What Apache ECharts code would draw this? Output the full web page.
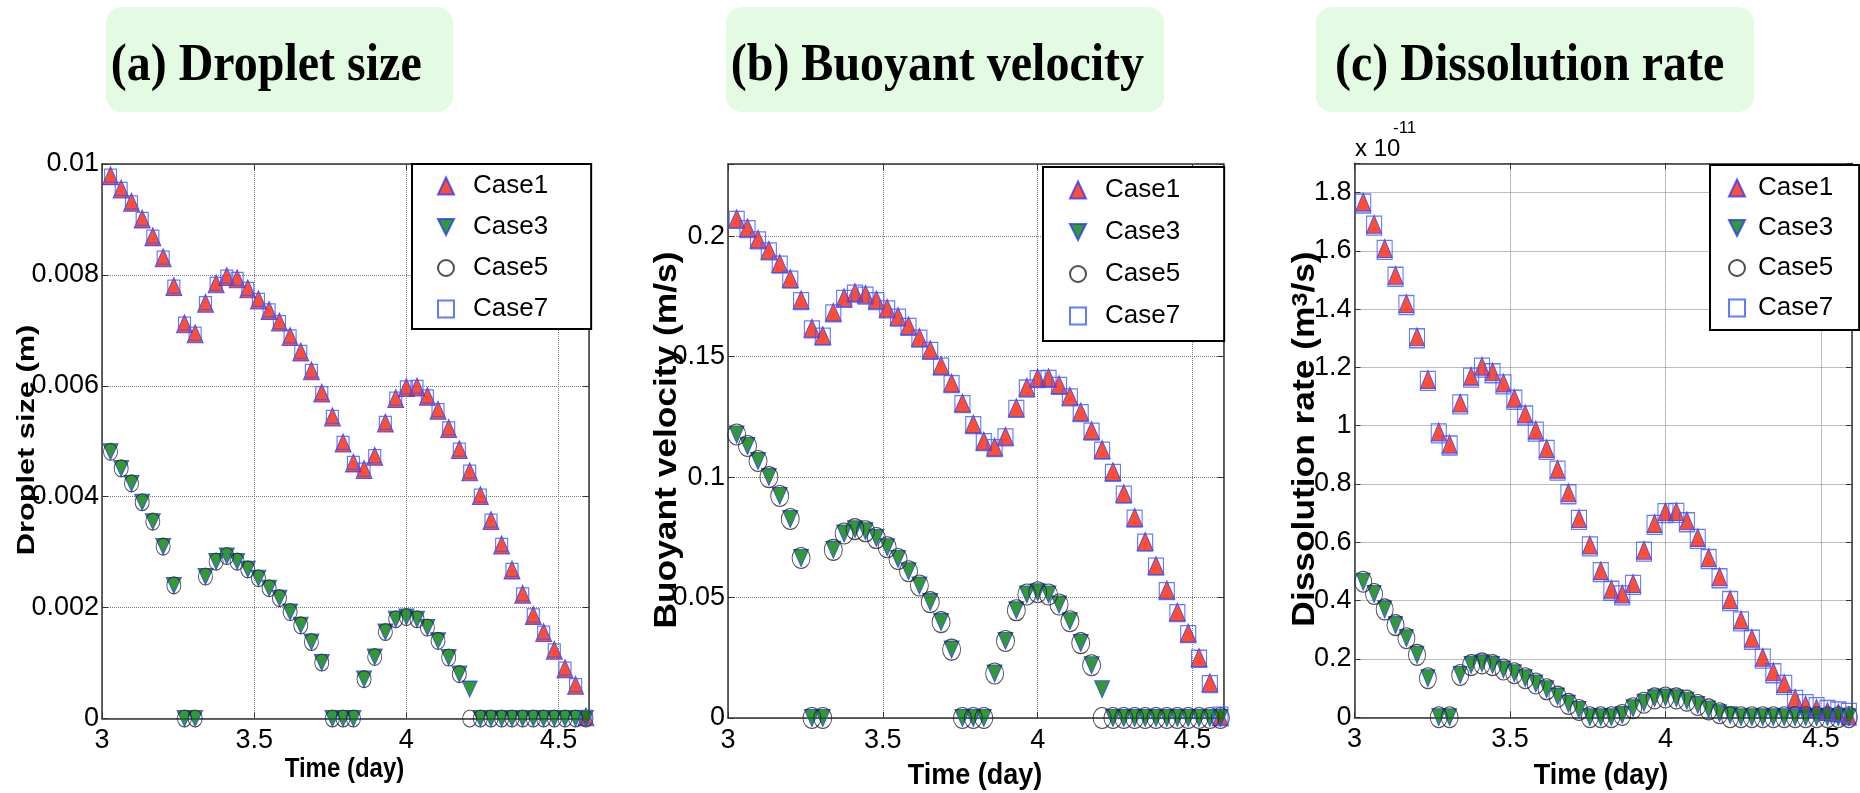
<!DOCTYPE html>
<html>
<head>
<meta charset="utf-8">
<title>Droplet size, buoyant velocity, dissolution rate</title>
<script src="https://cdn.jsdelivr.net/npm/echarts@6/dist/echarts.min.js"></script>
<style>
  html, body { margin: 0; padding: 0; background: #fff; }
  #chart { width: 1860px; height: 793px; }
</style>
</head>
<body>
<div id="chart"></div>
<script>
// time (day)
var times = [
  3.028, 3.063, 3.097, 3.132, 3.167, 3.201, 3.236, 3.271, 3.306, 3.340,
  3.375, 3.410, 3.444, 3.479, 3.514, 3.549, 3.583, 3.618, 3.653, 3.688,
  3.722, 3.757, 3.792, 3.826, 3.861, 3.896, 3.931, 3.965, 4.000, 4.035,
  4.069, 4.104, 4.139, 4.174, 4.208, 4.243, 4.278, 4.313, 4.347, 4.382,
  4.417, 4.451, 4.486, 4.521, 4.556, 4.590
];

// (a) droplet size (m)
var sizeCase1 = [
  0.00979, 0.00955, 0.00931, 0.00901, 0.00869, 0.00831, 0.00779, 0.00712, 0.00694, 0.00749,
  0.00784, 0.00797, 0.00793, 0.00775, 0.00755, 0.00736, 0.00715, 0.00689, 0.00661, 0.00627,
  0.00587, 0.00544, 0.00497, 0.00461, 0.00449, 0.00473, 0.00533, 0.00577, 0.00597, 0.00598,
  0.00581, 0.00556, 0.00523, 0.00485, 0.00445, 0.00402, 0.00357, 0.00313, 0.00268, 0.00224,
  0.00186, 0.00155, 0.00123, 0.00090, 0.00060, 0.00003
];
var sizeCase3 = [
  0.00481, 0.00451, 0.00424, 0.00390, 0.00355, 0.00310, 0.00240, 0, 0, 0.00256,
  0.00283, 0.00293, 0.00283, 0.00269, 0.00253, 0.00235, 0.00217, 0.00192, 0.00168, 0.00138,
  0.00101, 0, 0, 0, 0.00071, 0.00111, 0.00156, 0.00179, 0.00183, 0.00179,
  0.00164, 0.00140, 0.00110, 0.00080, 0.00053, 0, 0, 0, 0, 0,
  0, 0, 0, 0, 0, 0
];
var sizeCase5 = [
  0.00481, 0.00451, 0.00424, 0.00390, 0.00355, 0.00310, 0.00240, 0, 0, 0.00256,
  0.00283, 0.00293, 0.00283, 0.00269, 0.00253, 0.00235, 0.00217, 0.00192, 0.00168, 0.00138,
  0.00101, 0, 0, 0, 0.00071, 0.00111, 0.00156, 0.00179, 0.00183, 0.00179,
  0.00164, 0.00140, 0.00110, 0.00080, 0, 0, 0, 0, 0, 0,
  0, 0, 0, 0, 0, 0
];
var sizeCase7 = [
  0.00979, 0.00955, 0.00931, 0.00901, 0.00869, 0.00831, 0.00779, 0.00712, 0.00694, 0.00749,
  0.00784, 0.00797, 0.00793, 0.00775, 0.00755, 0.00736, 0.00715, 0.00689, 0.00661, 0.00627,
  0.00587, 0.00544, 0.00497, 0.00461, 0.00449, 0.00473, 0.00533, 0.00577, 0.00597, 0.00598,
  0.00581, 0.00556, 0.00523, 0.00485, 0.00445, 0.00402, 0.00357, 0.00313, 0.00268, 0.00224,
  0.00186, 0.00155, 0.00123, 0.00090, 0.00060, 0.00003
];

// (b) buoyant velocity (m/s)
var velCase1 = [
  0.2073, 0.2035, 0.1988, 0.1942, 0.1887, 0.1825, 0.1736, 0.1618, 0.1588, 0.1685,
  0.1745, 0.1767, 0.1759, 0.1736, 0.1701, 0.1667, 0.1629, 0.1580, 0.1529, 0.1464,
  0.1391, 0.1308, 0.1221, 0.1150, 0.1125, 0.1170, 0.1288, 0.1373, 0.1412, 0.1413,
  0.1384, 0.1336, 0.1271, 0.1194, 0.1115, 0.1023, 0.0932, 0.0833, 0.0733, 0.0633,
  0.0532, 0.0440, 0.0353, 0.0251, 0.0146, 0.0005
];
var velCase3 = [
  0.1177, 0.1129, 0.1067, 0.1000, 0.0922, 0.0826, 0.0664, 0, 0, 0.0698,
  0.0766, 0.0784, 0.0775, 0.0747, 0.0709, 0.0660, 0.0609, 0.0550, 0.0481, 0.0398,
  0.0284, 0, 0, 0, 0.0185, 0.0320, 0.0447, 0.0513, 0.0522, 0.0513,
  0.0471, 0.0402, 0.0311, 0.0219, 0.0119, 0, 0, 0, 0, 0,
  0, 0, 0, 0, 0, 0
];
var velCase5 = [
  0.1177, 0.1129, 0.1067, 0.1000, 0.0922, 0.0826, 0.0664, 0, 0, 0.0698,
  0.0766, 0.0784, 0.0775, 0.0747, 0.0709, 0.0660, 0.0609, 0.0550, 0.0481, 0.0398,
  0.0284, 0, 0, 0, 0.0185, 0.0320, 0.0447, 0.0513, 0.0522, 0.0513,
  0.0471, 0.0402, 0.0311, 0.0219, 0, 0, 0, 0, 0, 0,
  0, 0, 0, 0, 0, 0
];
var velCase7 = [
  0.2068, 0.2030, 0.1983, 0.1937, 0.1882, 0.1820, 0.1731, 0.1613, 0.1583, 0.1680,
  0.1740, 0.1762, 0.1754, 0.1731, 0.1696, 0.1662, 0.1624, 0.1575, 0.1524, 0.1459,
  0.1386, 0.1303, 0.1216, 0.1145, 0.1120, 0.1165, 0.1283, 0.1368, 0.1407, 0.1408,
  0.1379, 0.1331, 0.1266, 0.1189, 0.1110, 0.1018, 0.0927, 0.0828, 0.0728, 0.0628,
  0.0527, 0.0435, 0.0348, 0.0246, 0.0141, 0.0010
];

// (c) dissolution rate (x 1e-11 m^3/s)
var rateCase1 = [
  1.767, 1.691, 1.608, 1.516, 1.419, 1.305, 1.159, 0.979, 0.937, 1.078,
  1.170, 1.204, 1.185, 1.147, 1.094, 1.040, 0.985, 0.922, 0.851, 0.770,
  0.682, 0.591, 0.503, 0.439, 0.423, 0.459, 0.573, 0.665, 0.705, 0.706,
  0.674, 0.617, 0.548, 0.482, 0.404, 0.334, 0.271, 0.206, 0.156, 0.116,
  0.065, 0.042, 0.031, 0.020, 0.015, 0.005
];
var rateCase3 = [
  0.465, 0.423, 0.370, 0.316, 0.271, 0.214, 0.134, 0, 0, 0.145,
  0.179, 0.185, 0.179, 0.164, 0.151, 0.134, 0.116, 0.096, 0.071, 0.046,
  0.025, 0, 0, 0, 0.008, 0.031, 0.050, 0.065, 0.068, 0.065,
  0.057, 0.042, 0.027, 0.014, 0.007, 0, 0, 0, 0, 0,
  0, 0, 0, 0, 0, 0
];
var rateCase5 = [
  0.465, 0.423, 0.370, 0.316, 0.271, 0.214, 0.134, 0, 0, 0.145,
  0.179, 0.185, 0.179, 0.164, 0.151, 0.134, 0.116, 0.096, 0.071, 0.046,
  0.025, 0, 0, 0, 0.008, 0.031, 0.050, 0.065, 0.068, 0.065,
  0.057, 0.042, 0.027, 0.014, 0, 0, 0, 0, 0, 0,
  0, 0, 0, 0, 0, 0
];
var rateCase7 = [
  1.762, 1.686, 1.603, 1.511, 1.414, 1.300, 1.154, 0.974, 0.932, 1.073,
  1.165, 1.199, 1.180, 1.142, 1.089, 1.035, 0.980, 0.917, 0.846, 0.765,
  0.677, 0.586, 0.498, 0.434, 0.418, 0.454, 0.568, 0.660, 0.700, 0.701,
  0.669, 0.612, 0.543, 0.477, 0.399, 0.329, 0.266, 0.201, 0.151, 0.111,
  0.060, 0.045, 0.035, 0.025, 0.020, 0.015
];

var caseNames = ['Case1', 'Case3', 'Case5', 'Case7'];
var xTicks = [3, 3.5, 4, 4.5];

var FONT = 'Liberation Sans, Arial, Helvetica, sans-serif';
var NARROW = '"Liberation Sans Narrow", "Arial Narrow", sans-serif';
var SERIF = 'Liberation Serif, Times New Roman, serif';

var caseStyle = {
    Case1: {symbol: 'triangle', itemStyle: {color: '#ff2200', borderColor: '#2b3cff', borderWidth: 1}},
    Case3: {symbol: 'path://M0,0L20,0L10,20Z', itemStyle: {color: '#008000', borderColor: '#2b3cff', borderWidth: 1}},
    Case5: {symbol: 'circle', itemStyle: {color: 'rgba(0,0,0,0)', borderColor: '#222', borderWidth: 1}},
    Case7: {symbol: 'rect', itemStyle: {color: 'rgba(0,0,0,0)', borderColor: '#3a5aff', borderWidth: 1.2}}
};

var panels = [
    {
        grid: {left: 102, top: 164, width: 487, height: 554.5},
        yMax: 0.01, yStep: 0.002, yHide: 1,
        values: [sizeCase1, sizeCase3, sizeCase5, sizeCase7],
        sizes: [[16, 18], [15, 16], [14, 17], [12, 13]],
        legend: {left: 412, top: 164, padding: [9, 43, 7, 25], itemGap: 15, textPad: 14}
    },
    {
        grid: {left: 728, top: 164, width: 495.5, height: 554},
        yMax: 0.23, yStep: 0.05, yHide: 0.21,
        values: [velCase1, velCase3, velCase5, velCase7],
        sizes: [[16, 18], [15, 17], [18, 21], [15, 17]],
        legend: {left: 1043, top: 167, padding: [10, 44, 12, 26], itemGap: 16, textPad: 14}
    },
    {
        grid: {left: 1354.5, top: 163.3, width: 497.5, height: 554},
        yMax: 1.9, yStep: 0.2, yHide: 1.85,
        values: [rateCase1, rateCase3, rateCase5, rateCase7],
        sizes: [[15, 18], [14, 17], [17, 21], [15, 19]],
        legend: {left: 1710, top: 165, padding: [10, 26, 9, 18], itemGap: 14, textPad: 8}
    }
];

var axisLineStyle = {color: '#333', width: 1.5};
var tickStyle = {show: true, inside: true, length: 6, lineStyle: {color: '#333', width: 1}};
var gridLine = {show: true, lineStyle: {color: '#7a7a7a', type: 'dotted', width: 1}};

var grids = [], xAxes = [], yAxes = [], series = [], legends = [];

panels.forEach(function (p, gi) {
    grids.push(Object.assign({outerBoundsMode: 'none'}, p.grid));

    xAxes.push({
        type: 'value', gridIndex: gi, min: xTicks[0], max: 4.6, interval: 0.5, position: 'bottom',
        axisLine: {show: true, onZero: false, lineStyle: axisLineStyle},
        axisTick: tickStyle,
        axisLabel: {
            color: '#000', fontSize: 27, fontFamily: NARROW, margin: 9,
            formatter: function (v) { return xTicks.indexOf(v) >= 0 ? String(v) : ''; }
        },
        splitLine: gridLine
    });
    xAxes.push({
        type: 'value', gridIndex: gi, min: xTicks[0], max: 4.6, interval: 0.5, position: 'top',
        axisLine: {show: true, onZero: false, lineStyle: axisLineStyle},
        axisTick: tickStyle, axisLabel: {show: false}, splitLine: {show: false}
    });
    yAxes.push({
        type: 'value', gridIndex: gi, min: 0, max: p.yMax, interval: p.yStep, position: 'left',
        axisLine: {show: true, onZero: false, lineStyle: axisLineStyle},
        axisTick: tickStyle,
        axisLabel: {
            color: '#000', fontSize: 27, fontFamily: NARROW, margin: 3,
            formatter: function (v) { return v > p.yHide ? '' : String(v); }
        },
        splitLine: gridLine
    });
    yAxes.push({
        type: 'value', gridIndex: gi, min: 0, max: p.yMax, interval: p.yStep, position: 'right',
        axisLine: {show: true, onZero: false, lineStyle: axisLineStyle},
        axisTick: tickStyle, axisLabel: {show: false}, splitLine: {show: false}
    });

    caseNames.forEach(function (name, ci) {
        var vals = p.values[ci];
        series.push({
            name: name,
            type: 'scatter',
            xAxisIndex: gi * 2,
            yAxisIndex: gi * 2,
            symbol: caseStyle[name].symbol,
            symbolSize: p.sizes[ci],
            itemStyle: caseStyle[name].itemStyle,
            clip: false,
            silent: true,
            emphasis: {disabled: true},
            data: times.map(function (t, i) { return [t, vals[i]]; })
        });
    });

    legends.push({
        orient: 'vertical',
        left: p.legend.left, top: p.legend.top,
        padding: p.legend.padding,
        itemGap: p.legend.itemGap,
        itemWidth: 16, itemHeight: 17,
        backgroundColor: '#fff',
        borderColor: '#000', borderWidth: 2,
        selectedMode: false,
        textStyle: {color: '#000', fontSize: 26, fontFamily: NARROW, padding: [0, 0, 0, p.legend.textPad]},
        data: caseNames
    });
});

function titleBox(x, w, label, textX) {
    return [
        {type: 'rect', left: x, top: 7, shape: {width: w, height: 105, r: 16},
            style: {fill: '#e2fbe2'}, z: 0, silent: true},
        {type: 'text', x: textX, y: 67, z: 1, silent: true, scaleY: 1.08,
            style: {text: label, fill: '#000', font: 'bold 48px ' + SERIF, align: 'left', verticalAlign: 'middle'}}
    ];
}

function axisTitle(text, x, y, size, rotate, stretch, rich) {
    var el = {
        type: 'text', x: x, y: y, z: 5, silent: true,
        rotation: rotate ? Math.PI / 2 : 0,
        style: {text: text, fill: '#000', fontFamily: FONT, fontWeight: 'bold', fontSize: size,
            align: 'center', verticalAlign: 'middle', rich: rich}
    };
    if (rotate) { el.scaleX = stretch; } else { el.scaleY = stretch; }
    return el;
}

var graphics = []
    .concat(titleBox(106, 347, '(a) Droplet size', 110.7))
    .concat(titleBox(726, 438, '(b) Buoyant velocity', 730.7))
    .concat(titleBox(1316, 438, '(c) Dissolution rate', 1335))
    .concat([
        axisTitle('Time (day)', 344.5, 770, 24, false, 1.12),
        axisTitle('Time (day)', 975, 776, 27, false, 1.1),
        axisTitle('Time (day)', 1601, 776, 27, false, 1.1),
        axisTitle('Droplet size (m)', 27, 440, 24, true, 1.28),
        axisTitle('Buoyant velocity (m/s)', 667, 440, 31, true, 1.14),
        axisTitle('Dissolution rate (m{sup|3}/s)', 1305, 439, 31, true, 1.14, {
            sup: {fontFamily: FONT, fontWeight: 'bold', fontSize: 22, verticalAlign: 'top', fill: '#000'}
        }),
        {type: 'text', x: 1355, y: 149, z: 5, silent: true,
            style: {text: 'x 10', fill: '#000', fontFamily: NARROW, fontSize: 24, align: 'left', verticalAlign: 'middle'}},
        {type: 'text', x: 1393, y: 128, z: 5, silent: true,
            style: {text: '-11', fill: '#000', fontFamily: NARROW, fontSize: 17, align: 'left', verticalAlign: 'middle'}}
    ]);

var chart = echarts.init(document.getElementById('chart'), null, {renderer: 'canvas'});
chart.setOption({
    animation: false,
    backgroundColor: '#fff',
    grid: grids,
    xAxis: xAxes,
    yAxis: yAxes,
    legend: legends,
    series: series,
    graphic: graphics
});
</script>
</body>
</html>
